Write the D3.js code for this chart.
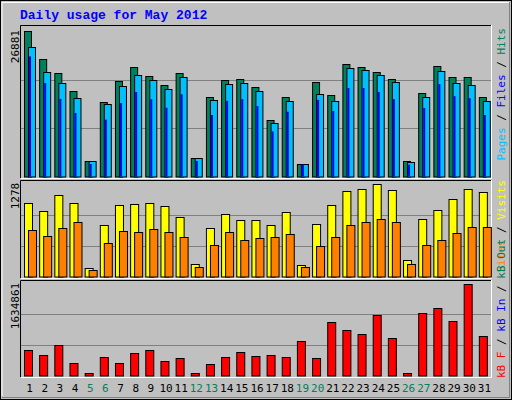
<!DOCTYPE html><html><head><script src="https://d3js.org/d3.v7.min.js"></script>
<style>body{margin:0;background:#fff}</style></head><body><script>
const days=d3.range(1,32);
const weekend=[5,6,12,13,19,20,26,27];
const hits=[26881,21763,19210,15745,2796,13739,17568,20304,18663,16839,19210,3343,14650,17751,17933,16474,10456,14650,2249,17386,15015,20851,20304,19392,17933,2796,15380,20486,18298,18298,14650];
const files=[23951,19392,17204,14468,2796,13374,16656,18845,17751,16109,18298,3343,14103,17021,17204,15745,9909,13921,2249,15198,13921,20121,19757,18845,17386,2614,14650,19574,17204,16839,13921];
const pages=[22188,17264,14346,11732,2310,10517,13556,15623,14286,12705,15198,2857,11368,13982,14286,13009,8328,11976,2249,14164,12097,16352,16352,15623,14286,2188,12644,17082,14833,14468,11368];
const visits=[1015,904,1126,1015,115,711,987,1001,1015,974,821,171,669,863,780,780,711,891,157,724,987,1181,1209,1278,1195,226,794,918,1070,1209,1167];
const sites=[641,558,669,752,88,461,628,614,655,614,544,129,434,614,503,531,544,586,129,420,544,711,752,794,752,171,434,503,600,683,683];
const kbytes=[453462,363963,542961,220764,41766,328163,220764,399762,453462,256564,310263,41766,202864,328163,417662,346063,363963,328163,614560,310263,954656,811458,739858,1079955,668259,41766,1115754,1205253,972556,1634861,704059];

const W=512,H=400;
const svg=d3.select("body").append("svg").attr("width",W).attr("height",H);
svg.append("rect").attr("x",0).attr("y",0).attr("width",W).attr("height",H).attr("fill","#C0C0C0");
svg.append("rect").attr("x",0.5).attr("y",0.5).attr("width",W-1).attr("height",H-1).attr("fill","none").attr("stroke","#000");
svg.append("path").attr("d","M2,397.5H509.5V2").attr("stroke","#808080").attr("fill","none");
svg.append("path").attr("d","M2,396V2.5H509").attr("stroke","#fff").attr("fill","none");
svg.append("text").attr("x",20).attr("y",19).text("Daily usage for May 2012")
 .attr("font-family","Liberation Mono").attr("font-weight","bold").attr("font-size",13).attr("fill","#0000FF");

const x=d3.scaleBand().domain(days).range([21,491]).paddingInner(0);
const mono="DejaVu Sans Mono";
function panel(y0,y1,max,label){
  svg.append("path").attr("d",`M20.5,${y1}V${y0+.5}H491`).attr("stroke","#000").attr("fill","none");
  svg.append("path").attr("d",`M21,${y1+.5}H491.5V${y0}`).attr("stroke","#fff").attr("fill","none");
  const base=y1-1.5;
  const y=d3.scaleLinear().domain([0,max]).range([base,base-(base-y0)*0.96]);
  [1/3,2/3].forEach(f=>{const yy=Math.round(y(max*f))+.5;
    svg.append("line").attr("x1",21).attr("x2",491).attr("y1",yy).attr("y2",yy).attr("stroke","#808080");});
  svg.append("text").attr("transform",`translate(19,${y(max)-1}) rotate(-90)`).attr("text-anchor","end")
   .attr("font-family",mono).attr("font-size",11).text(label);
  return y;
}
function bars(y,data,off,w,fill){
  svg.append("g").selectAll("rect").data(data).enter().append("rect")
   .attr("x",(d,i)=>x(days[i])+off+3.5).attr("width",w).attr("y",d=>Math.round(y(d))+.5)
   .attr("height",d=>Math.max(0,y(0)-Math.round(y(d))))
   .attr("fill",fill).attr("stroke","#000");
}
const y1=panel(25,178,26881,"26881");
bars(y1,hits,0,7,"#00805C");
bars(y1,files,4,7,"#00C0FF");
svg.append("g").selectAll("rect").data(pages).enter().append("rect")
 .attr("x",(d,i)=>x(days[i])+8).attr("width",2).attr("y",d=>y1(d)).attr("height",d=>y1(0)-y1(d)).attr("fill","#0000FF");
const y2=panel(180,278,1278,"1278");
bars(y2,visits,0,8,"#FFFF00");
bars(y2,sites,4,8,"#FF8000");
const y3=panel(280,377,1634861,"1634861");
bars(y3,kbytes,0,8,"#FF0000");

svg.append("g").selectAll("text").data(days).enter().append("text")
 .attr("x",d=>x(d)+x.bandwidth()/2+1).attr("y",392).attr("text-anchor","middle")
 .attr("font-family",mono).attr("font-size",11)
 .attr("fill",d=>weekend.includes(d)?"#00805C":"#000").text(d=>d);

function rlabel(y,anchor,parts){
  const t=svg.append("text").attr("transform",`translate(505,${y}) rotate(-90)`).attr("text-anchor",anchor)
   .attr("font-family",mono).attr("font-size",11);
  parts.forEach(p=>t.append("tspan").attr("fill",p[1]).text(p[0]));
}
rlabel(28,"end",[["Pages","#00C0FF"],[" / ","#000"],["Files","#0000FF"],[" / ","#000"],["Hits","#00805C"]]);
rlabel(180,"end",[["Sites","#FF8000"],[" / ","#000"],["Visits","#FFFF00"]]);
rlabel(378,"start",[["kB F","#FF0000"],[" / ","#000"],["kB In","#0000FF"],[" / ","#000"],["kB Out","#00805C"]]);
</script></body></html>
